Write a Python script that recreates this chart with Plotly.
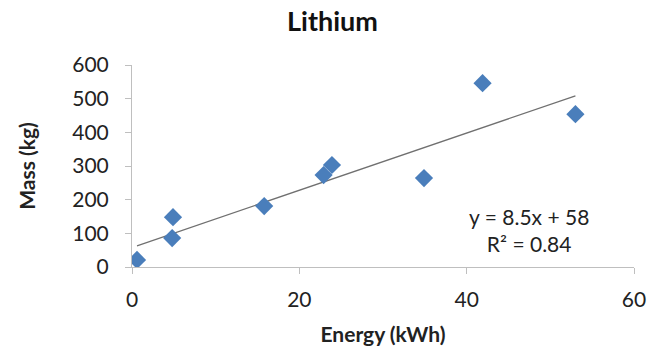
import plotly.graph_objects as go

energy_kwh = [0.6, 4.8, 4.9, 15.8, 22.9, 23.9, 34.9, 41.9, 53.0]
mass_kg = [21, 86, 148, 181, 273, 303, 264, 546, 454]
trend_slope = 8.5
trend_intercept = 58
equation_lines = ["y = 8.5x + 58", "R² = 0.84"]
x_ticks = [0, 20, 40, 60]
y_ticks = [0, 100, 200, 300, 400, 500, 600]

FONT = "Lato"

x_line = [min(energy_kwh), max(energy_kwh)]
y_line = [trend_slope * v + trend_intercept for v in x_line]

fig = go.Figure()
fig.add_trace(go.Scatter(
    x=x_line, y=y_line, mode="lines",
    line=dict(color="#707070", width=1.3), showlegend=False, hoverinfo="skip"))
fig.add_trace(go.Scatter(
    x=energy_kwh, y=mass_kg, mode="markers",
    marker=dict(symbol="diamond", size=14, color="#4a7ebb",
                line=dict(width=0)),
    showlegend=False))

fig.add_annotation(
    x=47.4, y=110, xref="x", yref="y",
    text="<br>".join(equation_lines), showarrow=False,
    font=dict(family=FONT, size=21, color="#222222"), align="center")

fig.update_layout(
    width=665, height=354,
    margin=dict(l=132, r=31, t=65, b=87),
    paper_bgcolor="white", plot_bgcolor="white",
    title=dict(text="<b>Lithium</b>", x=0.5, xanchor="center",
               y=0.94, yanchor="middle",
               font=dict(family=FONT, size=27, color="#111111")),
    font=dict(family=FONT, color="#222222"),
)
fig.update_xaxes(
    range=[0, 60], tickvals=x_ticks, showgrid=False, zeroline=False,
    showline=True, linecolor="#bfbfbf", linewidth=1,
    ticks="outside", ticklen=6, tickcolor="#bfbfbf", ticklabelstandoff=8,
    tickfont=dict(family=FONT, size=21, color="#222222"),
    title=dict(text="<b>Energy (kWh)</b>", standoff=17,
               font=dict(family=FONT, size=21, color="#222222")))
fig.update_yaxes(
    range=[0, 600], tickvals=y_ticks, showgrid=False, zeroline=False,
    showline=True, linecolor="#bfbfbf", linewidth=1,
    ticks="outside", ticklen=6, tickcolor="#bfbfbf", ticklabelstandoff=12,
    tickfont=dict(family=FONT, size=21, color="#222222"),
    title=dict(text="<b>Mass (kg)</b>", standoff=30,
               font=dict(family=FONT, size=21, color="#222222")))

fig.write_html("out.html")
